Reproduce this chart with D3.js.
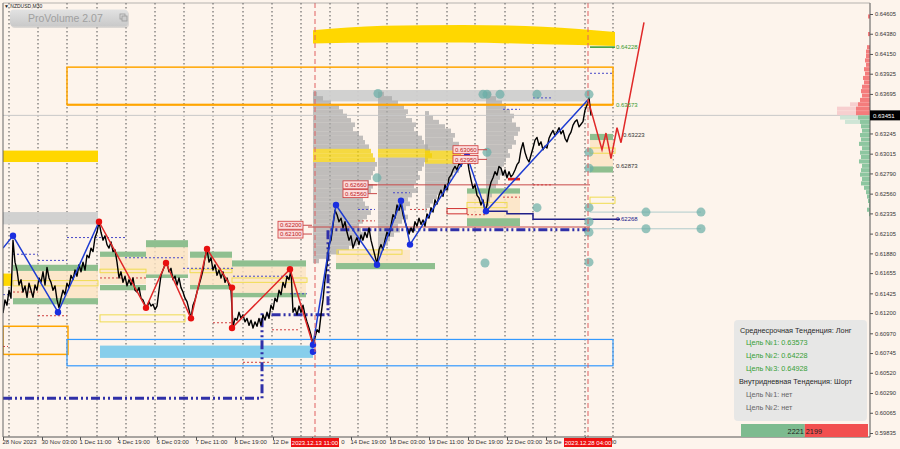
<!DOCTYPE html>
<html><head><meta charset="utf-8">
<script src="https://cdn.jsdelivr.net/npm/d3@7"></script>
<style>
body{margin:0;background:#fdf4ec;overflow:hidden}
svg text{font-family:"Liberation Sans",Arial,sans-serif}
</style></head>
<body><svg id="c" width="900" height="449"></svg>
<script>
// ---------------- DATA ----------------
const closes=[
0.6120,0.6135,0.6129,0.6146,0.6137,0.6203,0.6178,0.6169,0.6152,0.6158,
0.6144,0.6151,0.6138,0.6154,0.6146,0.6138,0.6152,0.6146,0.6160,0.6155,
0.6167,0.6152,0.6172,0.6160,0.6155,0.6146,0.6151,0.6135,0.6126,0.6137,
0.6146,0.6141,0.6154,0.6149,0.6163,0.6158,0.6169,0.6162,0.6175,0.6167,
0.6178,0.6169,0.6186,0.6183,0.6194,0.6190,0.6206,0.6212,0.6224,0.6212,
0.6203,0.6208,0.6198,0.6194,0.6201,0.6190,0.6192,0.6178,0.6160,0.6167,
0.6155,0.6162,0.6151,0.6158,0.6152,0.6160,0.6146,0.6144,0.6149,0.6137,
0.6135,0.6129,0.6126,0.6133,0.6128,0.6130,0.6124,0.6128,0.6146,0.6163,
0.6169,0.6175,0.6177,0.6167,0.6171,0.6158,0.6162,0.6152,0.6160,0.6149,
0.6144,0.6137,0.6133,0.6124,0.6114,0.6129,0.6135,0.6144,0.6152,0.6160,
0.6169,0.6183,0.6193,0.6178,0.6183,0.6169,0.6175,0.6163,0.6169,0.6160,
0.6167,0.6155,0.6160,0.6152,0.6146,0.6104,0.6114,0.6112,0.6121,0.6114,
0.6118,0.6110,0.6114,0.6106,0.6112,0.6103,0.6110,0.6105,0.6114,0.6106,
0.6118,0.6112,0.6121,0.6114,0.6129,0.6124,0.6137,0.6133,0.6146,0.6141,
0.6155,0.6149,0.6162,0.6158,0.6169,0.6121,0.6126,0.6118,0.6128,0.6121,
0.6129,0.6118,0.6110,0.6103,0.6095,0.6084,0.6092,0.6101,0.6098,0.6118,
0.6135,0.6158,0.6175,0.6198,0.6203,0.6220,0.6237,0.6232,0.6224,0.6228,
0.6217,0.6224,0.6212,0.6203,0.6208,0.6194,0.6201,0.6206,0.6198,0.6209,
0.6203,0.6212,0.6206,0.6217,0.6203,0.6194,0.6185,0.6176,0.6192,0.6198,
0.6192,0.6203,0.6212,0.6208,0.6220,0.6232,0.6228,0.6243,0.6237,0.6245,
0.6232,0.6224,0.6217,0.6210,0.6217,0.6212,0.6224,0.6219,0.6228,0.6221,
0.6226,0.6219,0.6233,0.6228,0.6240,0.6235,0.6249,0.6244,0.6254,0.6260,
0.6253,0.6266,0.6260,0.6274,0.6277,0.6283,0.6287,0.6283,0.6291,0.6287,
0.6294,0.6291,0.6298,0.6283,0.6272,0.6262,0.6266,0.6254,0.6251,0.6243,
0.6249,0.6236,0.6243,0.6260,0.6269,0.6274,0.6281,0.6277,0.6287,0.6285,
0.6277,0.6283,0.6274,0.6281,0.6275,0.6278,0.6283,0.6289,0.6292,0.6306,
0.6314,0.6303,0.6296,0.6292,0.6300,0.6308,0.6317,0.6320,0.6311,0.6315,
0.6306,0.6310,0.6308,0.6319,0.6324,0.6328,0.6322,0.6326,0.6331,0.6324,
0.6328,0.6319,0.6315,0.6322,0.6326,0.6334,0.6338,0.6340,0.6332,0.6335,
0.6338,0.6351,0.6357,0.6365,0.6345];
const currentPrice=0.63451;

const priceTicks=[0.64605,0.64380,0.64150,0.63925,0.63695,0.63245,0.63015,0.62790,0.62560,0.62335,0.62105,0.61880,0.61655,0.61425,0.61200,0.60970,0.60745,0.60520,0.60290,0.60065,0.59835];
const timeTicks=[0,19.5,38.5,57.5,77,96.5,116,135,154.5,174,193.5,213,232.5,252,271.5,291];
const timeLabels=["28 Nov 2023","30 Nov 03:00","1 Dec 11:00","4 Dec 19:00","6 Dec 03:00","7 Dec 11:00","8 Dec 19:00","12 Dec 03:00","13 Dec 11:00","14 Dec 19:00","18 Dec 03:00","19 Dec 11:00","20 Dec 19:00","22 Dec 03:00","26 Dec 11:00","27 Dec 19:00"];
const gridT=[3,17.5,32,47,61.5,76,90.5,105,120,134.5,149,163.5,177.5,192,207,222,236,251,265,276,291,305];
const markerTimes=[156,292.5];
const markerLabels=["2023.12.13 11:00","2023.12.28 04:00"];

// zigzags [t, price]
const blueLegA=[[0,0.6194],[5,0.6208],[27.5,0.6121],[48,0.6224]];
const redLegA=[[48,0.6224],[71.5,0.6126],[81.5,0.6177],[94,0.6114],[102,0.6193],[114.5,0.6149],[114.5,0.6103],[143.5,0.6170],[155,0.6084]];
const blueLegB=[[155,0.6084],[166.5,0.6243],[187,0.6175],[199,0.6248],[203.5,0.6198],[232,0.6299],[241.5,0.6236],[292.5,0.6363]];
const redForecast=[[292.5,0.6363],[299.5,0.6306],[301.5,0.6325],[304,0.6296],[307,0.6331],[309,0.6314],[320.5,0.6451]];
const redDots=[[48,0.6224],[71.5,0.6126],[81.5,0.6177],[94,0.6114],[102,0.6193],[114.5,0.6149],[114.5,0.6103],[143.5,0.6170]];
const blueDots=[[5,0.6208],[27.5,0.6121],[155,0.6084],[155,0.6076],[166.5,0.6243],[187,0.6175],[199,0.6248],[203.5,0.6198],[232,0.6299],[241.5,0.6236]];
const tealDots=[[187.5,0.6370],[240,0.6369],[242,0.6369],[248.5,0.6369],[267,0.6369],[293,0.6369],[242,0.6303],[267,0.6240],[293,0.6303],[293,0.6285],[293,0.6240],[293,0.6224],[293,0.6212],[293,0.6178],[321.5,0.6235],[321.5,0.6216],[349,0.6235],[349,0.6216],[241,0.6177],[187,0.6274]];

// zones [t1,t2,pTop,pBottom]
const goldBand=[[155,0.6442,0.6427],[190,0.6447,0.6428],[230,0.6448,0.6428],[270,0.6446,0.6426],[306,0.6440,0.6424]];
const goldZones=[[0,47.5,0.6305,0.6292],[0,4.5,0.6165,0.6151]];
const grayZones=[[0,47.5,0.6235,0.6221],[155,293.5,0.6374,0.6361]];
const orangeBoxes=[[32,305,0.6400,0.63573],[0,32.5,0.6105,0.6073]];
const blueBoxes=[[32,305,0.6090,0.6060]];
const skyZones=[[48.5,155,0.6083,0.6069]];
const creamZones=[[5,47.5,0.6168,0.6137],[48.5,71.5,0.6184,0.6153],[71.5,92.5,0.6195,0.6164],[93.5,114.5,0.6183,0.6152],[114.5,151.5,0.6173,0.6143],[166.5,203.5,0.6192,0.6177],[232,258.5,0.6256,0.6228],[293.5,305,0.6317,0.6287]];
const greenZones=[[5,47.5,0.6175,0.6168],[5,47.5,0.6137,0.6130],[48.5,71.5,0.6152,0.6146],[48.5,71.5,0.6190,0.6184],[71.5,92.5,0.6203,0.6195],[71.5,92.5,0.6164,0.6160],[93.5,114.5,0.6190,0.6183],[93.5,114.5,0.6152,0.6147],[114.5,151.5,0.6180,0.6173],[114.5,151.5,0.6143,0.6138],[166.5,216,0.6177,0.6170],[232,258.5,0.6262,0.6256],[232,258.5,0.6228,0.6219],[293.5,305,0.6324,0.6317],[293.5,305,0.6287,0.6280]];
const yellowBoxes=[[5,47.5,0.6157,0.6151],[48.5,71.5,0.6170,0.6166],[48.5,91,0.6118,0.6110],[93.5,114.5,0.6170,0.6166],[114.5,152,0.6160,0.6155],[167,199.5,0.6192,0.6187],[232,252,0.6246,0.6240],[293.5,306,0.6252,0.6245],[293.5,306,0.6308,0.6302]];
const redDashes=[[17.5,32,0.6117],[48.5,71.5,0.6160],[5,17.5,0.6144],[0,2.5,0.6082],[105,115,0.6109],[120,133.5,0.6064],[134.5,148.5,0.6101],[250,258.5,0.6252],[265,275,0.6266],[232,242,0.6232],[177.5,186,0.6225],[203.5,212,0.6238]];
const blueDashes=[[0,3.5,0.6141],[5,17.5,0.6187],[17.5,32,0.6180],[32,61,0.6206],[61,90,0.6183],[90,115,0.6171],[115,143.5,0.6162],[143.5,152,0.6142],[177.5,186,0.6238],[195,203.5,0.6257],[250,258.5,0.6352],[265,275,0.6365],[293.5,305,0.6393]];
const dashDotPath=[[0,0.6023],[129.5,0.6023],[129.5,0.6118],[162.5,0.6118],[162.5,0.6215],[293.5,0.6215]];
const navyStep=[[242,0.6236],[252,0.6236],[252,0.6233],[265,0.6233],[265,0.62268],[308.5,0.62268]];
const redLevels=[[152.5,293.5,0.6218],[182.5,293.5,0.6266]];
const paleLevels=[[293.5,349,0.6235],[293.5,349,0.6216]];
const redFillBars=[[252.5,258.5,0.6274,0.6271]];
const redOpenBoxes=[[222,232,0.6239,0.6233]];
const levelBoxes=[{t:137.5,p:0.62200},{t:137.5,p:0.62100},{t:170,p:0.62660},{t:170,p:0.62560},{t:225,p:0.63060},{t:225,p:0.62950}];
const targetLevels=[0.64228,0.63573,0.63223,0.62873,0.62268];

// volume profiles (bins of 0.0005 from top price downwards)
const profAnchors=[155,187.5,211,241.5];
const profTops=[0.6372,0.6372,0.6350,0.6372];
const prof1Vol=[4,10,18,26,30,34,38,42,40,46,50,52,56,58,60,62,64,62,60,58,56,60,58,54,50,52,56,58,54,50,46,48,52,50,44,36,26,16,6];
const prof2Vol=[6,14,20,26,30,28,34,38,36,40,44,46,50,52,54,50,46,44,40,42,38,36,40,34,30,32,28,26,30,24,20,22,16,12,10,6,3];
const prof3Vol=[4,8,14,20,26,30,28,34,38,36,40,38,32,34,28,26,22,24,18,12,8,5,2];
const prof4Vol=[5,10,16,20,24,28,26,30,34,32,28,30,26,22,24,20,18,16,20,14,12,10,8,6,4,3,2];
const profPoc=[[13,14,15],[13,14],[9,10,11],[]];

// right side market profile [price, volume]
const rpSell=[[0.6460,2],[0.6440,2],[0.6425,3],[0.6420,4],[0.6415,4],[0.6410,5],[0.6405,4],[0.6400,6],[0.6395,5],[0.6390,7],[0.6385,6],[0.6380,8],[0.6375,9],[0.6370,8],[0.6365,10],[0.6360,12],[0.6355,14],[0.6350,14]];
const rpBuy=[[0.6345,12],[0.6340,10],[0.6335,9],[0.6330,8],[0.6325,10],[0.6320,9],[0.6315,11],[0.6310,8],[0.6305,10],[0.6300,9],[0.6295,11],[0.6290,8],[0.6285,9],[0.6280,10],[0.6275,8],[0.6270,9],[0.6265,6],[0.6260,4],[0.6255,3],[0.6250,2],[0.6245,1],[0.6240,3],[0.6235,1]];
const rpSellPale=[[0.6360,20],[0.6355,33],[0.6350,33]];
const rpBuyPale=[[0.6345,30],[0.6340,25]];

const panelLines=["Среднесрочная Тенденция: Лонг","Цель №1: 0.63573","Цель №2: 0.64228","Цель №3: 0.64928","Внутридневная Тенденция: Шорт","Цель №1: нет","Цель №2: нет"];
const buyCount=2221, sellCount=2199;

// ---------------- DRAW ----------------
const svg=d3.select("#c");
const x=d3.scaleLinear().domain([0,433.5]).range([3,870]);
const y=d3.scaleLinear().domain([0.59835,0.64605]).range([433,14]);
const vw=d3.scaleLinear().domain([0,100]).range([0,100]);
const BIN=0.0005;

svg.append("rect").attr("width",900).attr("height",449).attr("fill","#fdf4ec");
svg.append("defs").append("clipPath").attr("id","plot").append("rect").attr("x",3).attr("y",3).attr("width",867).attr("height",434);
const g=svg.append("g").attr("clip-path","url(#plot)");

// grid
g.selectAll(".grid").data(gridT).enter().append("line")
 .attr("x1",d=>x(d)).attr("x2",d=>x(d)).attr("y1",3).attr("y2",437)
 .attr("stroke","#505050").attr("stroke-width",1).attr("stroke-dasharray","1.5,2.5");

function boxes(data,fill,stroke,sw,op){
  g.append("g").selectAll("rect").data(data).enter().append("rect")
   .attr("x",d=>x(d[0])).attr("width",d=>x(d[1])-x(d[0]))
   .attr("y",d=>y(Math.max(d[2],d[3]))).attr("height",d=>Math.abs(y(d[2])-y(d[3])))
   .attr("fill",fill).attr("stroke",stroke).attr("stroke-width",sw).attr("opacity",op);
}
function hsegs(data,stroke,sw,dash){
  g.append("g").selectAll("line").data(data).enter().append("line")
   .attr("x1",d=>x(d[0])).attr("x2",d=>x(d[1])).attr("y1",d=>y(d[2])).attr("y2",d=>y(d[2]))
   .attr("stroke",stroke).attr("stroke-width",sw).attr("stroke-dasharray",dash);
}
const line=d3.line().x(d=>x(d[0])).y(d=>y(d[1]));

// fills
boxes(creamZones,"#fbe3c2","none",0,0.8);
boxes(skyZones,"#87ceeb","none",0,1);
boxes(goldZones,"#ffd700","none",0,1);
boxes(grayZones,"#cfcfcf","none",0,0.95);
g.append("path").datum(goldBand)
 .attr("d",d3.area().x(d=>x(d[0])).y0(d=>y(d[2])).y1(d=>y(d[1])).curve(d3.curveMonotoneX))
 .attr("fill","#ffd700");

// volume profiles
[prof1Vol,prof2Vol,prof3Vol,prof4Vol].forEach((vols,k)=>{
  const pg=g.append("g").attr("opacity",0.72);
  pg.selectAll("rect").data(vols).enter().append("rect")
   .attr("x",x(profAnchors[k]))
   .attr("y",(d,i)=>y(profTops[k]-i*BIN))
   .attr("width",d=>vw(d))
   .attr("height",(d,i)=>y(profTops[k]-(i+1)*BIN)-y(profTops[k]-i*BIN)+0.2)
   .attr("fill",(d,i)=>profPoc[k].includes(i)?"#f2d000":"#a9a9a9");
});

boxes(greenZones,"#8fbf8f","none",0,1);
boxes(yellowBoxes,"none","#f0dc50",1,1);
boxes(orangeBoxes,"none","#ffa500",1.5,1);
boxes(blueBoxes,"none","#3399ff",1.2,1);
boxes(redFillBars,"#e02020","none",0,1);
boxes(redOpenBoxes,"none","#d03030",1,1);

hsegs(redLevels,"#c84848",1,null);
hsegs(paleLevels,"#b0cccc",1,null);
hsegs(redDashes,"#d04040",1,"2,2");
hsegs(blueDashes,"#4848c8",1,"2,2");
hsegs([[293.5,306,0.64228]],"#2e9a2e",1.5,null);
hsegs([[32,305,0.63573]],"#ffa500",2,null);

g.append("path").datum(dashDotPath).attr("d",line).attr("fill","none")
 .attr("stroke","#3030a8").attr("stroke-width",3).attr("stroke-dasharray","9,3,2,3,2,3");
g.append("path").datum(navyStep).attr("d",line).attr("fill","none")
 .attr("stroke","#20208a").attr("stroke-width",1.5);

// current price line
g.append("line").attr("x1",3).attr("x2",870).attr("y1",y(currentPrice)).attr("y2",y(currentPrice))
 .attr("stroke","#c8c8c8").attr("stroke-width",1);

// price
g.append("path").datum(closes)
 .attr("d",d3.line().x((d,i)=>x(i)).y(d=>y(d)))
 .attr("fill","none").attr("stroke","#000").attr("stroke-width",1.4).attr("stroke-linejoin","round");

// zigzags
[[blueLegA,"#1e3cd2"],[redLegA,"#e02828"],[blueLegB,"#1e3cd2"],[redForecast,"#e02828"]].forEach(([d,c])=>{
  g.append("path").datum(d).attr("d",line).attr("fill","none").attr("stroke",c).attr("stroke-width",1.5);
});
g.selectAll(".rd").data(redDots).enter().append("circle")
 .attr("cx",d=>x(d[0])).attr("cy",d=>y(d[1])).attr("r",3.2).attr("fill","#e81010");
g.selectAll(".bd").data(blueDots).enter().append("circle")
 .attr("cx",d=>x(d[0])).attr("cy",d=>y(d[1])).attr("r",3.2).attr("fill","#1a2ee0");
g.selectAll(".td").data(tealDots).enter().append("circle")
 .attr("cx",d=>x(d[0])).attr("cy",d=>y(d[1])).attr("r",4.5).attr("fill","#6aaea6").attr("opacity",0.7);

// time markers
g.selectAll(".vm").data(markerTimes).enter().append("line")
 .attr("x1",d=>x(d)).attr("x2",d=>x(d)).attr("y1",3).attr("y2",437)
 .attr("stroke","#e06060").attr("stroke-width",1).attr("stroke-dasharray","5,3");

// level label boxes
const lb=g.append("g");
lb.selectAll("rect").data(levelBoxes).enter().append("rect")
 .attr("x",d=>x(d.t)).attr("y",d=>y(d.p)-4).attr("width",d=>x(d.t+12.5)-x(d.t)).attr("height",8)
 .attr("fill","#fbdcdc").attr("stroke","#d03a3a").attr("stroke-width",0.8);
lb.selectAll("text").data(levelBoxes).enter().append("text")
 .attr("x",d=>x(d.t)+2).attr("y",d=>y(d.p)+2.2).attr("font-size",6).attr("fill","#c02020")
 .text(d=>d3.format(".5f")(d.p));
lb.selectAll("line").data(levelBoxes).enter().append("line")
 .attr("x1",d=>x(d.t+12.5)).attr("x2",d=>x(d.t+17)).attr("y1",d=>y(d.p)).attr("y2",d=>y(d.p))
 .attr("stroke","#c84848").attr("stroke-width",1);

// target labels
const tCols=["#3a9a2e","#3a9a2e","#333","#333","#20208a"];
const tOff=[306.5,306.5,310,306.5,306.5];
g.selectAll(".tl").data(targetLevels).enter().append("text")
 .attr("x",(d,i)=>x(tOff[i])).attr("y",d=>y(d)+2).attr("font-size",6).attr("fill",(d,i)=>tCols[i])
 .text(d=>d3.format(".5f")(d));

// right market profile
function rp(data,fill){
  g.append("g").selectAll("rect").data(data).enter().append("rect")
   .attr("x",d=>870-vw(d[1])).attr("width",d=>vw(d[1]))
   .attr("y",d=>y(d[0])).attr("height",d=>y(d[0]-BIN)-y(d[0])-0.3).attr("fill",fill);
}
rp(rpSellPale,"#f7cfcf");
rp(rpBuyPale,"#cfe5d6");
rp(rpSell,"#f47c7c");
rp(rpBuy,"#8dc6a0");

// axes
const ya=svg.append("g").attr("transform","translate(870,0)")
 .call(d3.axisRight(y).tickValues(priceTicks).tickSize(3).tickPadding(2).tickFormat(d3.format(".5f")));
ya.select(".domain").attr("stroke","#555").attr("d","M0,3V437");
ya.selectAll("text").attr("font-size",5.8).attr("fill","#333").attr("font-family","Liberation Sans, Arial");
ya.selectAll("line").attr("stroke","#555");

const xa=svg.append("g").attr("transform","translate(0,437)")
 .call(d3.axisBottom(x).tickValues(timeTicks).tickSize(3).tickPadding(0).tickFormat((d,i)=>timeLabels[i]));
xa.select(".domain").attr("stroke","#555").attr("d","M3,0H870");
xa.selectAll("text").attr("font-size",6).attr("fill","#333").attr("text-anchor","start").attr("dx",-1)
 .attr("font-family","Liberation Sans, Arial");
xa.selectAll("line").attr("stroke","#555");

// the red marker tags hide parts of the time labels: keep only the visible fragments
const tagHalf=24;
const tagSpans=markerTimes.map(t=>[x(t)-tagHalf,x(t)+tagHalf]);
xa.selectAll(".tick").each(function(d){
  const txt=d3.select(this).select("text");
  const el=txt.node();
  const full=el.textContent;
  const left=x(d)-1;
  const len=el.getComputedTextLength();
  tagSpans.forEach(([bl,br])=>{
    if(left<br && left+len>bl){
      let n=0;
      while(n<full.length && left+el.getSubStringLength(0,n+1)<=bl-0.3) n++;
      let k=full.length;
      for(let j=0;j<full.length;j++){ if(left+el.getSubStringLength(0,j)>=br+0.6){k=j;break;} }
      const suffix=full.slice(k);
      if(suffix.trim().length){
        xa.append("text").attr("x",left+el.getSubStringLength(0,k)).attr("y",3).attr("dy","0.71em")
          .attr("font-size",6).attr("fill","#333").text(suffix.trim());
      }
      txt.text(full.slice(0,n).replace(/\s+$/,""));
    }
  });
});

svg.append("line").attr("x1",3).attr("x2",3).attr("y1",3).attr("y2",437).attr("stroke","#666");
svg.append("line").attr("x1",3).attr("x2",870).attr("y1",3).attr("y2",3).attr("stroke","#888").attr("stroke-width",0.6);

// current price tag
svg.append("rect").attr("x",870).attr("y",y(currentPrice)-5).attr("width",30).attr("height",10).attr("fill","#000");
svg.append("text").attr("x",873).attr("y",y(currentPrice)+2.2).attr("font-size",6).attr("fill","#fff").text(d3.format(".5f")(currentPrice));

// time marker tags
markerTimes.forEach((t,i)=>{
  svg.append("rect").attr("x",x(t)-tagHalf).attr("y",438).attr("width",tagHalf*2).attr("height",9).attr("fill","#ee1111");
  svg.append("text").attr("x",x(t)).attr("y",445).attr("text-anchor","middle").attr("font-size",6).attr("fill","#fff").text(markerLabels[i]);
});

// info panel
svg.append("rect").attr("x",734).attr("y",320).attr("width",133).attr("height",101).attr("rx",4)
 .attr("fill","#e6e6e6").attr("opacity",0.95);
const pCol=["#2a2a2a","#36a036","#36a036","#36a036","#2a2a2a","#666","#666"];
const pX=[740,746,746,746,739,746,746];
svg.selectAll(".pt").data(panelLines).enter().append("text")
 .attr("x",(d,i)=>pX[i]).attr("y",(d,i)=>332.5+i*12.9).attr("font-size",7.3).attr("fill",(d,i)=>pCol[i]).text(d=>d);

// buy/sell bar
const bs=d3.scaleLinear().domain([0,buyCount+sellCount]).range([741,868]);
svg.append("rect").attr("x",741).attr("y",424).attr("width",bs(buyCount)-741).attr("height",13).attr("fill","#7dbb8f");
svg.append("rect").attr("x",bs(buyCount)).attr("y",424).attr("width",868-bs(buyCount)).attr("height",13).attr("fill","#f24f4f");
svg.append("text").attr("x",bs(buyCount)-1).attr("y",433.5).attr("text-anchor","end").attr("font-size",7.3).attr("fill","#222").text(buyCount);
svg.append("text").attr("x",bs(buyCount)+1).attr("y",433.5).attr("font-size",7.3).attr("fill","#222").text(sellCount);

// top-left title + button
svg.append("text").attr("x",4).attr("y",8).attr("font-size",5).attr("fill","#222").text("▼ NZDUSD,M30");
const grad=svg.select("defs").append("linearGradient").attr("id","btn").attr("x1",0).attr("x2",0).attr("y1",0).attr("y2",1);
grad.append("stop").attr("offset","0").attr("stop-color","#e2e2e2");
grad.append("stop").attr("offset","1").attr("stop-color","#c9c9c9");
svg.append("rect").attr("x",11).attr("y",11).attr("width",118).attr("height",17).attr("rx",4).attr("fill","#bbb").attr("opacity",0.5);
svg.append("rect").attr("x",10).attr("y",9.5).attr("width",118).attr("height",17).attr("rx",4).attr("fill","url(#btn)");
svg.append("text").attr("x",28).attr("y",21.5).attr("font-size",10.5).attr("fill","#a0a0a0").text("ProVolume 2.07");
svg.append("rect").attr("x",120).attr("y",14).attr("width",5).attr("height",5).attr("fill","none").attr("stroke","#999").attr("stroke-width",0.8);
svg.append("rect").attr("x",122).attr("y",16).attr("width",5).attr("height",5).attr("fill","#ccc").attr("stroke","#999").attr("stroke-width",0.8);
</script></body></html>
